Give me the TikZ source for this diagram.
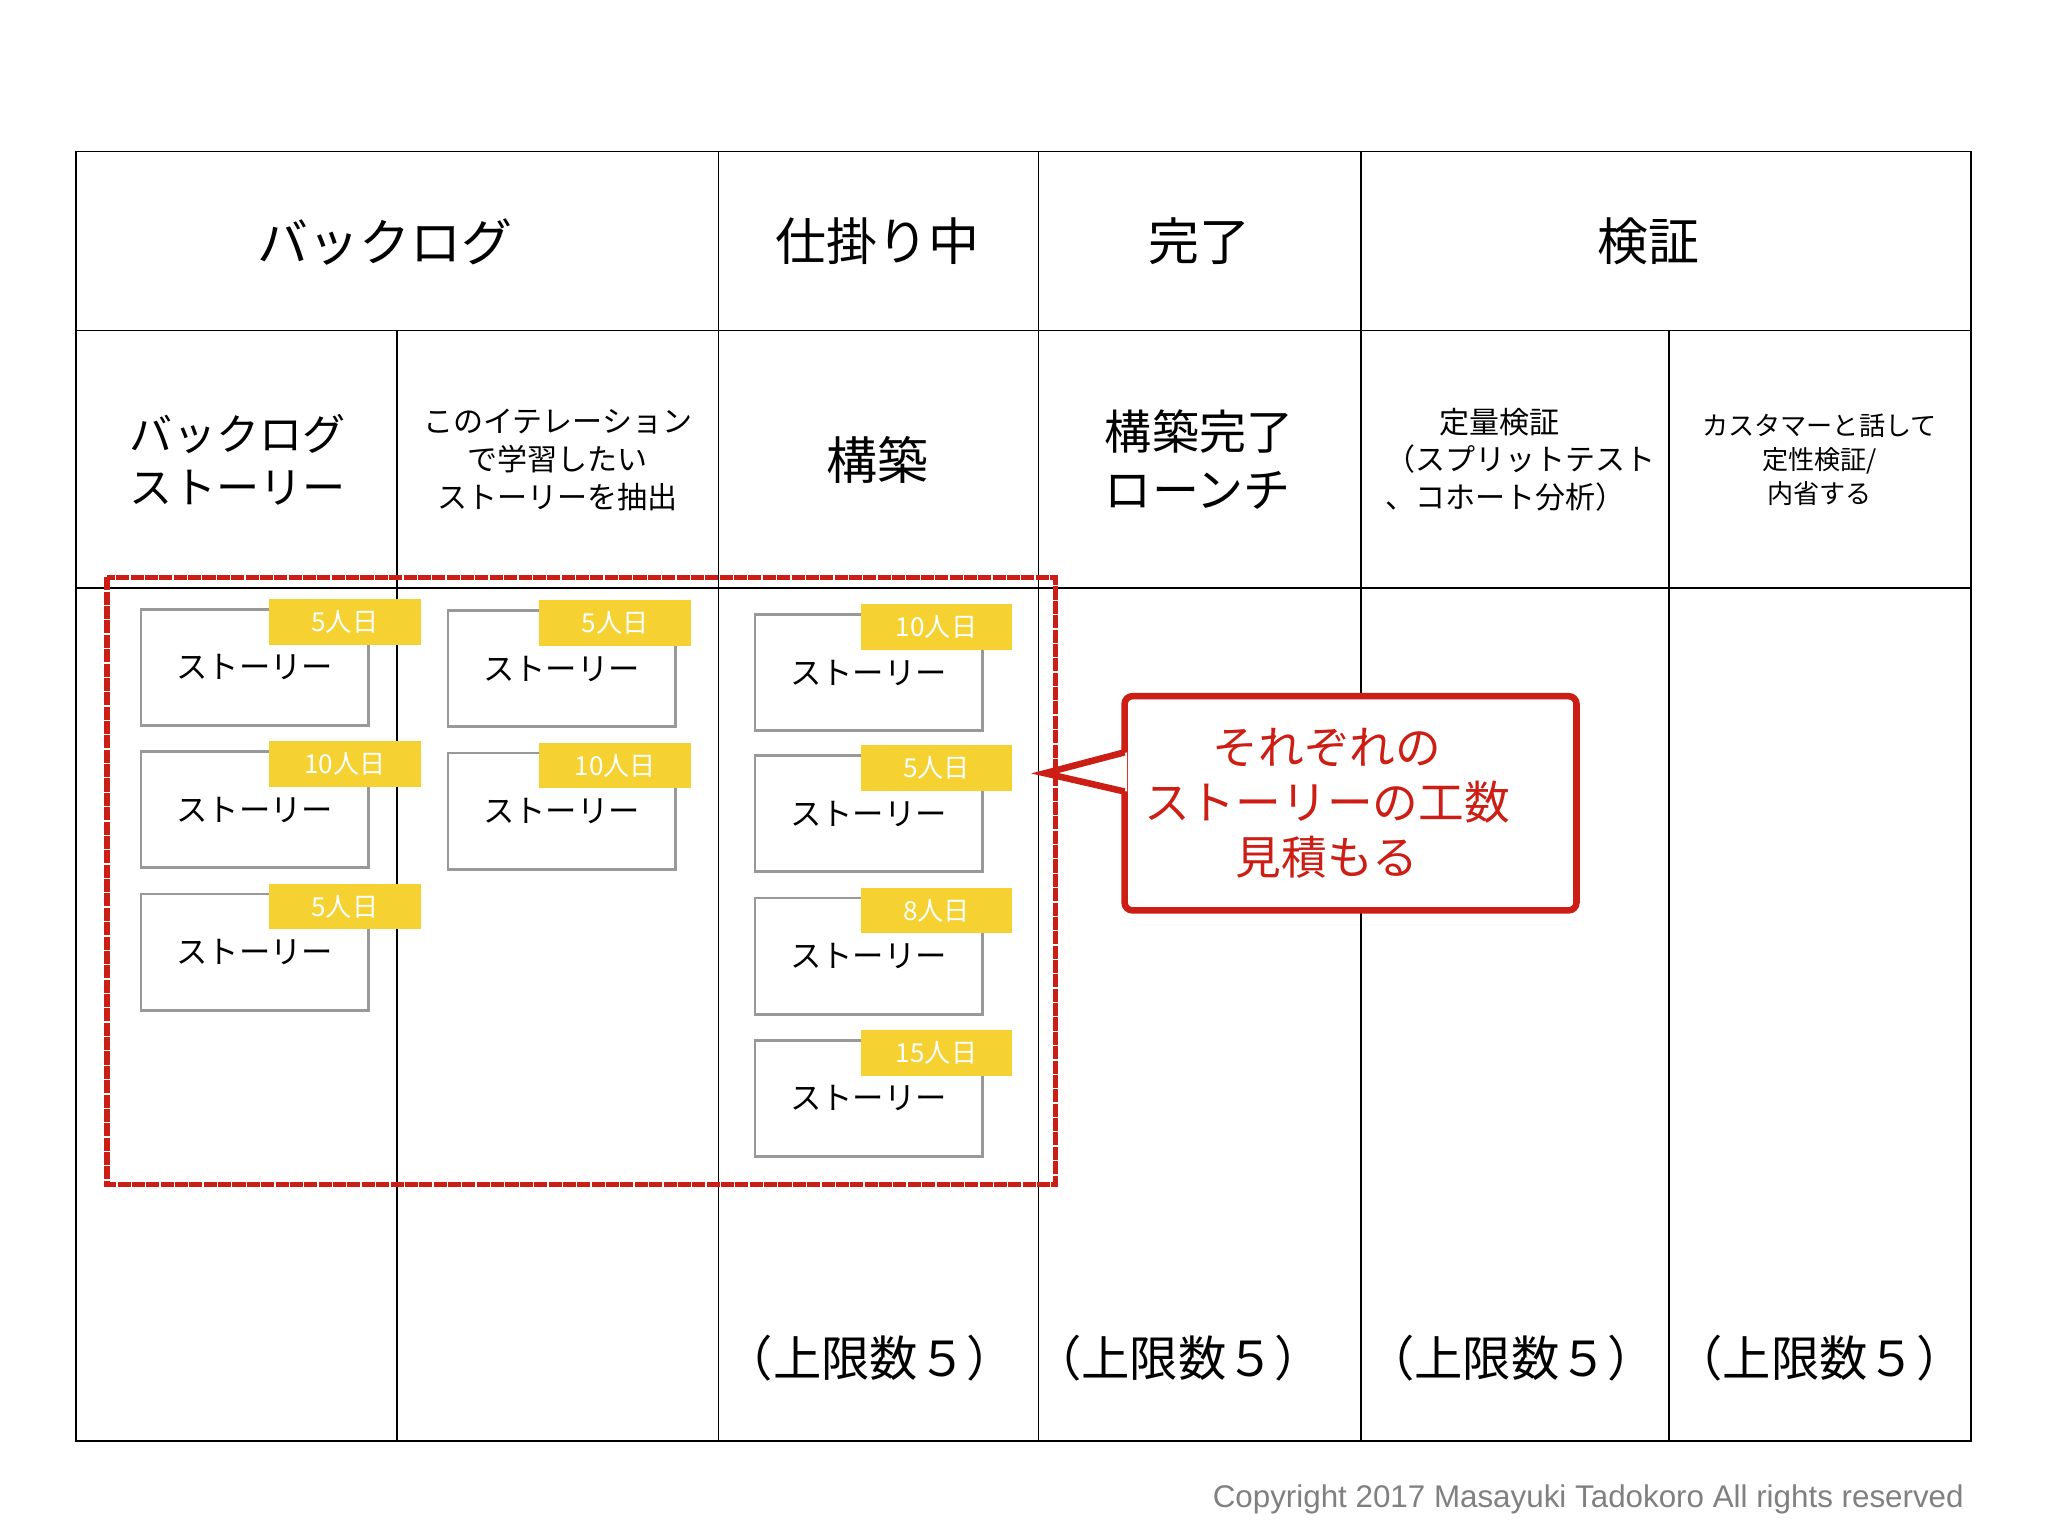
\documentclass[tikz,border=0pt]{standalone}
\usepackage{fontspec}
\usetikzlibrary{calc}
\setmainfont{Noto Sans CJK JP}
\newfontfamily\latinf{Liberation Sans}
\definecolor{redc}{RGB}{204,30,20}
\definecolor{tagc}{RGB}{245,210,50}
\begin{document}
\begin{tikzpicture}[x=1pt,y=-1pt,
  story/.style={draw=gray!80,line width=2.2pt,minimum width=174pt,minimum height=89pt,font=\fontsize{24}{26}\selectfont,inner sep=0pt},
  tag/.style={fill=tagc,text=white,minimum width=116pt,minimum height=35pt,font=\fontsize{20}{22}\selectfont,inner sep=0pt},
  grid/.style={line width=1.3pt}]
\useasboundingbox (0,0) rectangle (1568,1176);
\draw[grid] (58,116) rectangle (1509,1103);
\draw[grid] (58,253)--(1509,253) (58,450)--(1509,450);
\draw[grid] (550,116)--(550,1103) (795,116)--(795,1103) (1042,116)--(1042,1103);
\draw[grid] (304,253)--(304,1103) (1278,253)--(1278,1103);
\begin{scope}[font=\fontsize{39}{44}\selectfont]
\node (h1) at (295,185) {バックログ};
\node (h2) at (672,185) {仕掛り中};
\node (h3) at (918,185) {完了};
\node (h4) at (1262,185) {検証};
\end{scope}
\node[align=left,font=\fontsize{33}{40}\selectfont] (s1) at (182,352) {バックログ\\ストーリー};
\node[align=center,font=\fontsize{23}{29}\selectfont] (s2) at (427,352) {このイテレーション\\で学習したい\\ストーリーを抽出};
\node[font=\fontsize{39}{44}\selectfont] (s3) at (672,352) {構築};
\node[align=left,font=\fontsize{36}{44}\selectfont] (s4) at (918,352) {構築完了\\ローンチ};
\node[align=left,font=\fontsize{23}{29}\selectfont] (s5) at (1164,352) {\hspace*{1.8em}定量検証\\（スプリットテスト\\、コホート分析）};
\node[align=center,font=\fontsize{20}{26}\selectfont] (s6) at (1393,352) {カスタマーと話して\\定性検証/\\内省する};
\begin{scope}[font=\fontsize{37}{40}\selectfont]
\node (b3) at (666,1040) {（上限数５）};
\node (b4) at (902,1040) {（上限数５）};
\node (b5) at (1157,1040) {（上限数５）};
\node (b6) at (1393,1040) {（上限数５）};
\end{scope}
% stories
\foreach \n/\x/\y/\o/\t in {a1/195/511/69/5人日,a2/195/620/69/10人日,a3/195/729/69/5人日,
  c1/430/512/41/5人日,c2/430/621/41/10人日,
  d1/665/515/52/10人日,d2/665/623/52/5人日,d3/665/732/52/8人日,d4/665/841/52/15人日}{
  \node[story] (\n) at (\x,\y) {ストーリー};
  \node[tag] (t\n) at ($(\x,\y)+(\o,-35)$) {\t};
}
\draw[redc,line width=4pt,dash pattern=on 10pt off 1pt] (82,442) rectangle (808,907);
\node[draw=redc,fill=white,line width=5pt,rounded corners=6pt,minimum width=346pt,minimum height=164pt,text=redc,align=center,font=\fontsize{35}{42}\selectfont] (call) at (1034,615) {};
\node[text=redc,align=center,font=\fontsize{35}{42}\selectfont] (calltext) at (1016,615) {それぞれの\\ストーリーの工数\\見積もる};
\coordinate (tip) at (800,592);
\fill[white] (863,576)--(tip)--(863,606)--cycle;
\draw[redc,line width=5pt,line join=miter] (861,576)--(tip)--(861,606);
\node[anchor=east,text=gray,font=\latinf\fontsize{24}{26}\selectfont] (cp) at (1507,1148) {Copyright 2017 Masayuki Tadokoro All rights reserved};
\end{tikzpicture}
\end{document}
